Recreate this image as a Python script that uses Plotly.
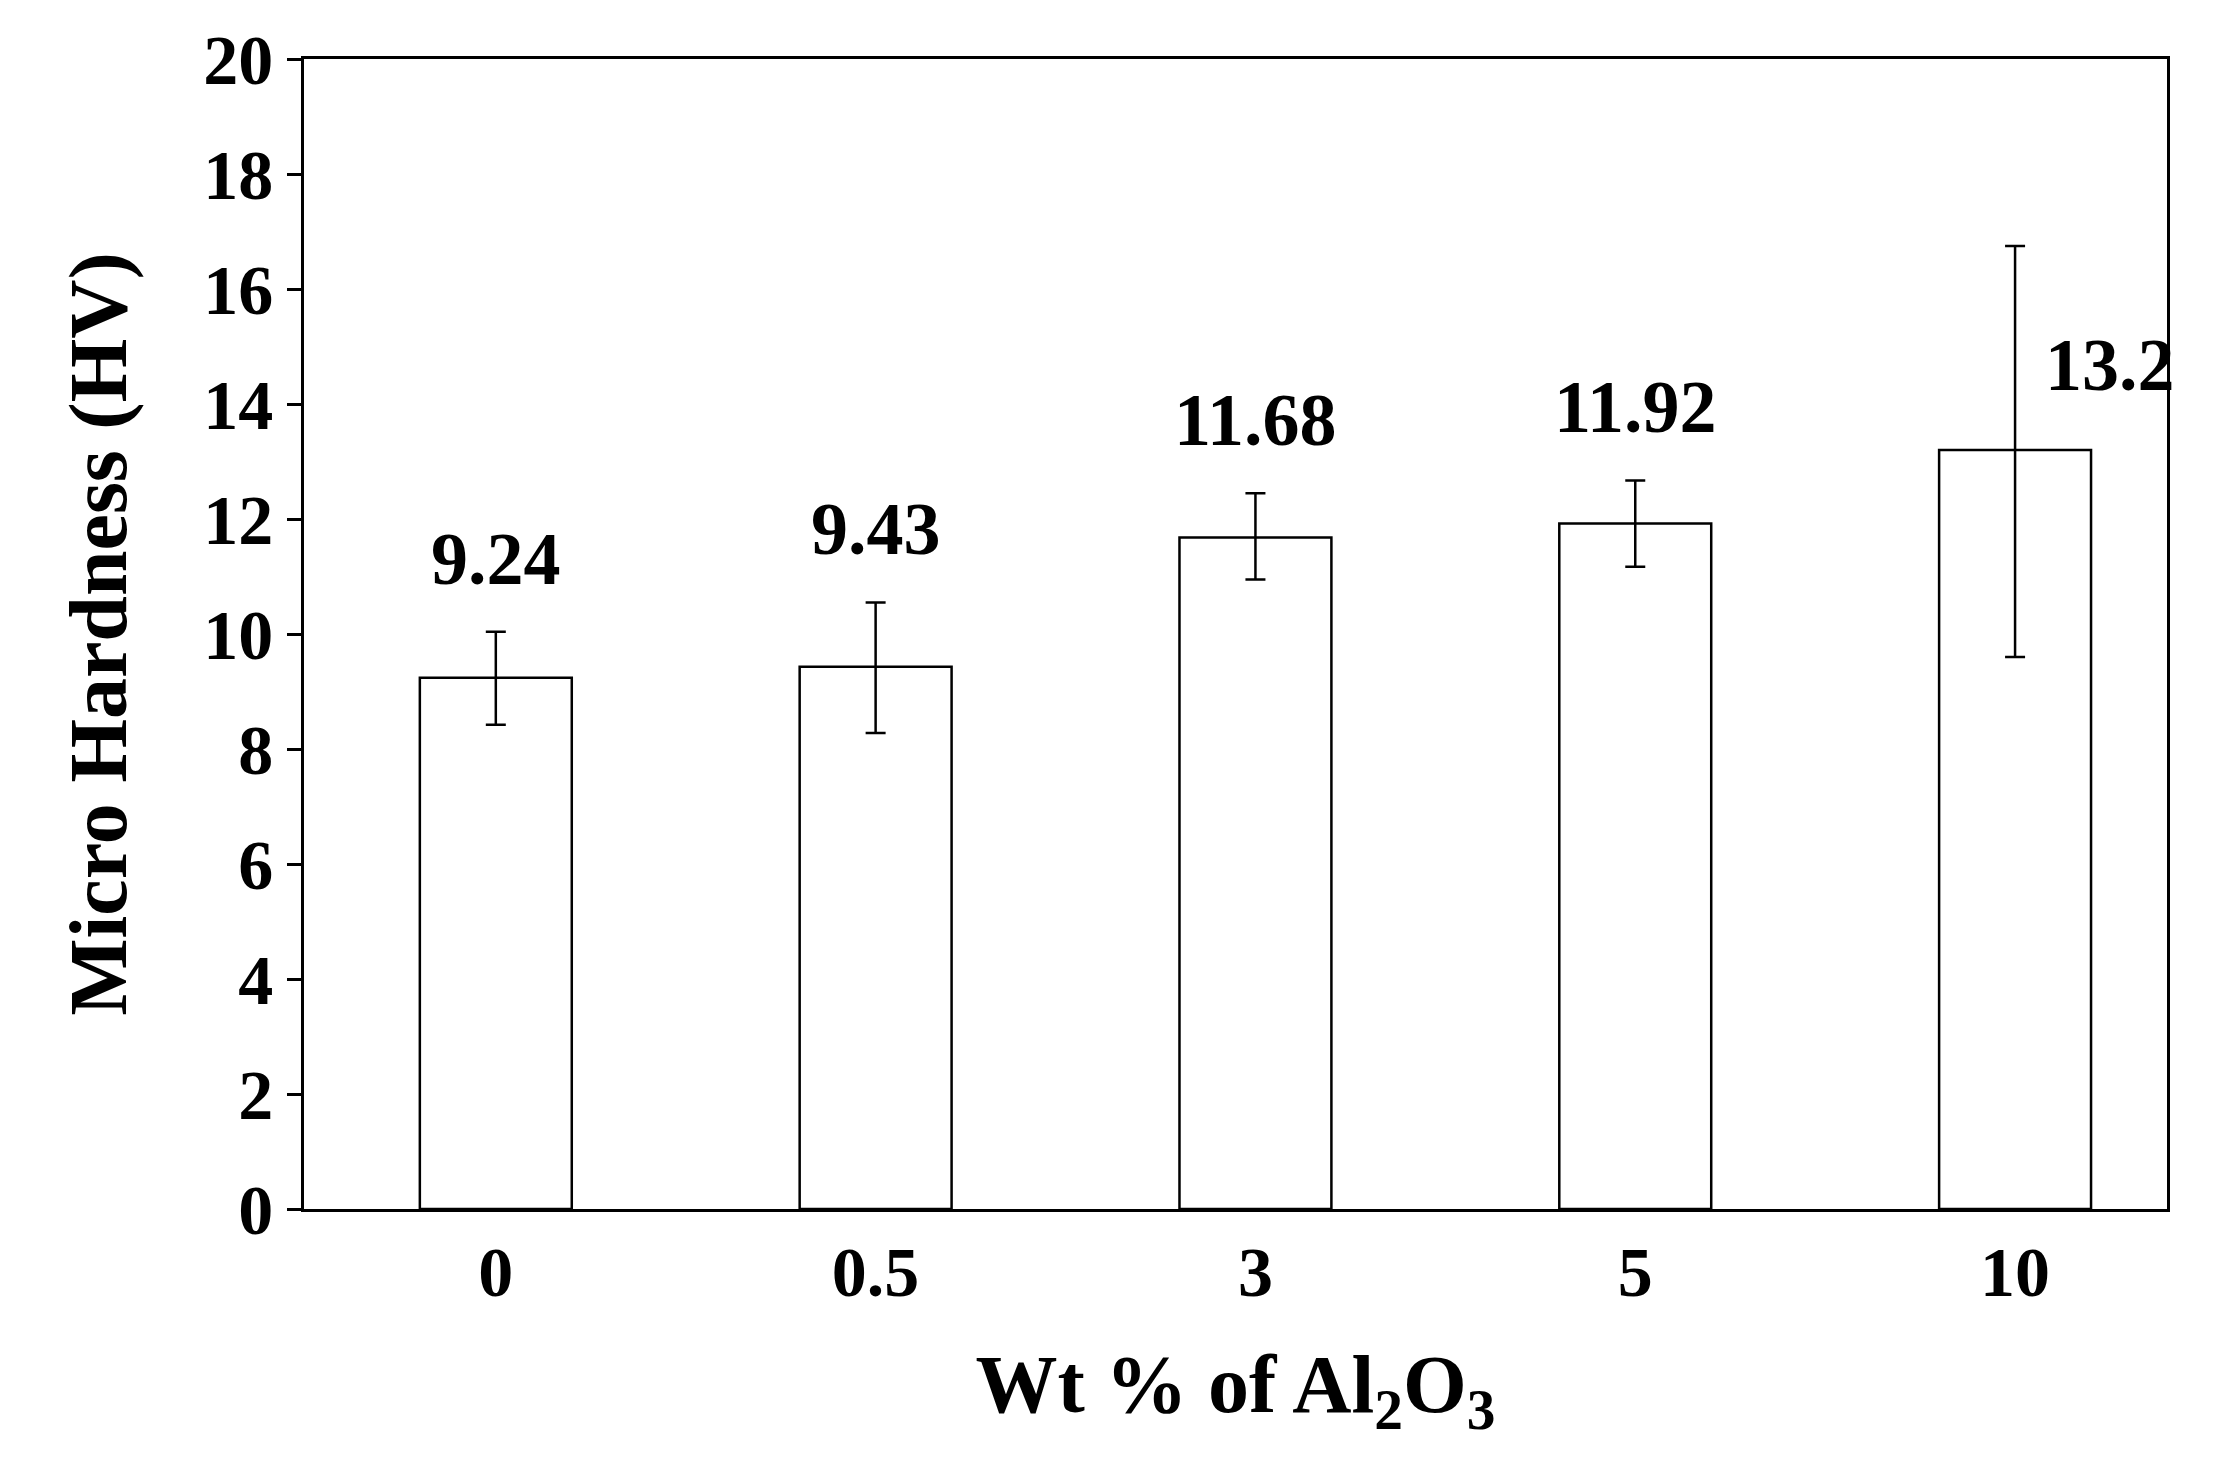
import plotly.graph_objects as go

categories = ["0", "0.5", "3", "5", "10"]
hardness = [9.24, 9.43, 11.68, 11.92, 13.2]
err_plus = [0.8, 1.12, 0.77, 0.75, 3.55]
err_minus = [0.82, 1.15, 0.73, 0.75, 3.6]
labels = ["9.24", "9.43", "11.68", "11.92", "13.2"]

font = dict(family="Liberation Serif", color="black")

fig = go.Figure(go.Bar(
    x=categories, y=hardness, width=0.4,
    marker=dict(color="white", line=dict(color="black", width=2.5)),
    error_y=dict(type="data", array=err_plus, arrayminus=err_minus,
                 color="black", thickness=2.5, width=10),
))

# value labels above the error bars; last one sits to the right of its bar
for i, (v, lab) in enumerate(zip(hardness, labels)):
    last = i == len(categories) - 1
    fig.add_annotation(
        x=i, y=v + err_plus[i] if not last else v,
        text="<b>%s</b>" % lab, showarrow=False,
        xshift=95 if last else 0, yshift=30 if not last else 85,
        font=dict(size=74, **font), yanchor="bottom" if not last else "middle",
    )

fig.update_layout(
    width=2216, height=1472,
    margin=dict(l=296, r=57, t=51, b=271),
    plot_bgcolor="white", paper_bgcolor="white",
    showlegend=False,
    xaxis=dict(
        type="category", range=[-0.505, 4.4],
        showline=True, linecolor="black", linewidth=2.5, mirror=True,
        ticks="", tickfont=dict(size=70, **font),
        title=dict(text="<b>Wt % of Al<sub>2</sub>O<sub>3</sub></b>",
                   font=dict(size=82, **font), standoff=45),
    ),
    yaxis=dict(
        range=[0, 20], dtick=2,
        showline=True, linecolor="black", linewidth=2.5, mirror=True,
        showgrid=False, zeroline=False,
        ticks="outside", ticklen=14, tickwidth=2.5, tickcolor="black",
        tickfont=dict(size=70, **font),
        title=dict(text="<b>Micro Hardness (HV)</b>",
                   font=dict(size=82, **font), standoff=50),
    ),
)
fig.update_xaxes(tickprefix="<b>", ticksuffix="</b>")
fig.update_yaxes(tickprefix="<b>", ticksuffix="</b>")

fig.write_html("out.html")
